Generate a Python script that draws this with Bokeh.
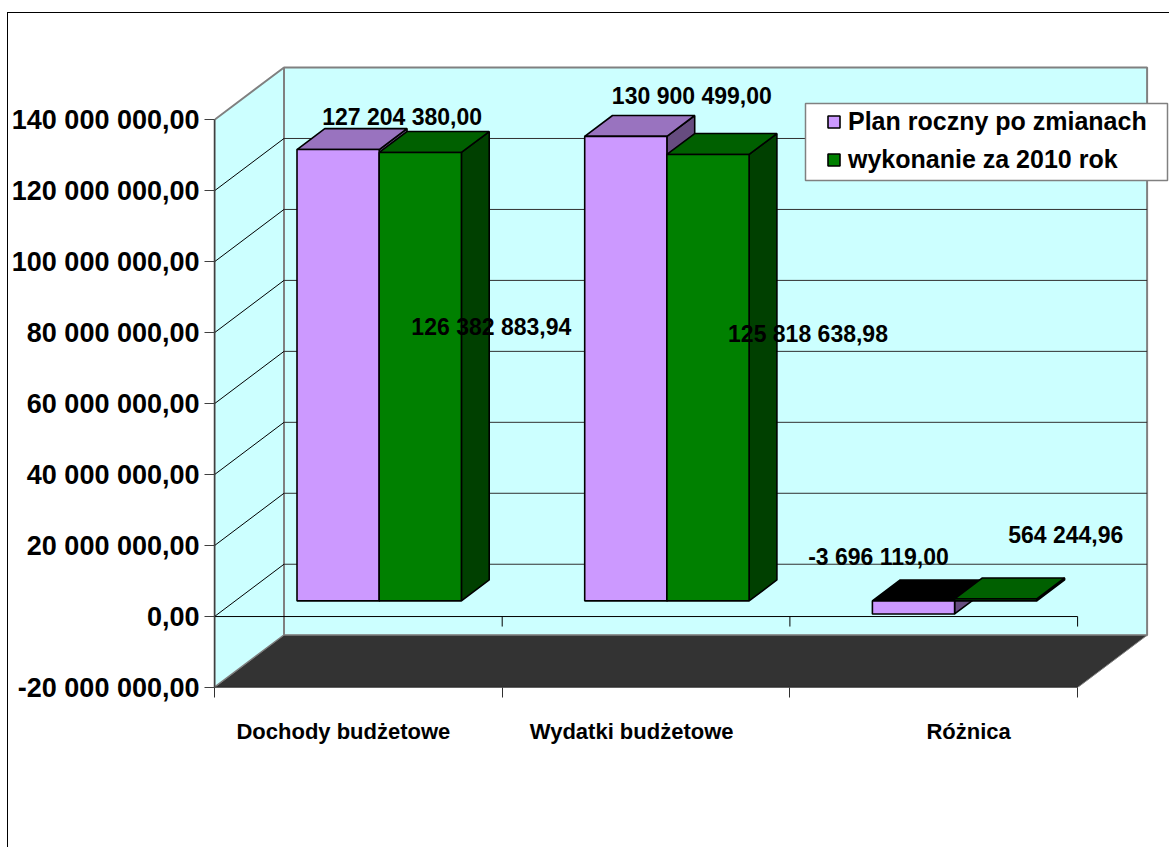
from bokeh.plotting import figure
from bokeh.embed import file_html
from bokeh.resources import INLINE
from bokeh.core.properties import value
from bokeh.models import Range1d, FixedTicker, Legend, LegendItem, BoxAnnotation

# ---- data ----
categories = ["Dochody budżetowe", "Wydatki budżetowe", "Różnica"]
plan = [127204380.00, 130900499.00, -3696119.00]
wykonanie = [126382883.94, 125818638.98, 564244.96]
plan_labels = ["127 204 380,00", "130 900 499,00", "-3 696 119,00"]
wykonanie_labels = ["126 382 883,94", "125 818 638,98", "564 244,96"]
y_ticks = [-20000000, 0, 20000000, 40000000, 60000000, 80000000, 100000000, 120000000, 140000000]
y_tick_labels = ["-20 000 000,00", "0,00", "20 000 000,00", "40 000 000,00", "60 000 000,00",
                 "80 000 000,00", "100 000 000,00", "120 000 000,00", "140 000 000,00"]
series_names = ["Plan roczny po zmianach", "wykonanie za 2010 rok"]

# ---- layout of the fake 3D projection ----
W, H = 1162, 835
LEFT, BOTTOM = 206, 161
PX_X = 287.7            # px per category
PX_Y = 3.548e-6         # px per value unit
DEPTH_X = 69.5 / PX_X   # wall depth in category units
DEPTH_Y = 52.3 / PX_Y   # wall depth in value units
FONT = value("Liberation Sans")
PLAN_OFF = [(64, -33), (66, -40), (-35, -57)]
WYK_OFF = [(71, 175), (100, 180), (70, -64)]
CAT_POS = [0.448, 1.450, 2.621]
BAR_W = 1 / 3.5
BAR_M = 1.5 / 3.5 / 2
D0, D1 = 0.3, 0.7

def px(x, d):
    return x + d * DEPTH_X

def py(v, d):
    return v + d * DEPTH_Y

p = figure(width=W, height=H, output_backend="svg", toolbar_location=None,
           x_range=Range1d(0, (W - LEFT) / PX_X),
           y_range=Range1d(y_ticks[0], y_ticks[0] + (H - BOTTOM) / PX_Y),
           min_border_left=LEFT, min_border_bottom=BOTTOM, min_border_top=0, min_border_right=0,
           styles={"margin-left": "7px", "margin-top": "12px",
                   "border-left": "1px solid #000000", "border-top": "1px solid #000000"})
p.outline_line_color = None
p.grid.visible = False

ymin, ymax = y_ticks[0], y_ticks[-1]
# walls and floor
p.patch([px(0, 1), px(3, 1), px(3, 1), px(0, 1)], [py(ymin, 1), py(ymin, 1), py(ymax, 1), py(ymax, 1)],
        fill_color="#CCFFFF", line_color="#808080", line_width=2)
p.patch([px(0, 0), px(0, 1), px(0, 1), px(0, 0)], [py(ymin, 0), py(ymin, 1), py(ymax, 1), py(ymax, 0)],
        fill_color="#CCFFFF", line_color="#808080", line_width=2)
grid = y_ticks[1:-1]
p.segment([px(0, 1)] * len(grid), [py(v, 1) for v in grid], [px(3, 1)] * len(grid), [py(v, 1) for v in grid],
          line_color="#303030", line_width=1)
p.segment([px(0, 0)] * len(grid), grid, [px(0, 1)] * len(grid), [py(v, 1) for v in grid],
          line_color="#000000", line_width=1)
p.patch([px(0, 0), px(3, 0), px(3, 1), px(0, 1)], [py(ymin, 0), py(ymin, 0), py(ymin, 1), py(ymin, 1)],
        fill_color="#333333", line_color="#808080", line_width=1)
p.line([px(0, 0), px(3, 0)], [ymin, ymin], line_color="#202020", line_width=1.5)
# zero line with its ticks
p.line([0, 3], [0, 0], line_color="#000000", line_width=1)
p.segment([1, 2, 3], [0, 0, 0], [1, 2, 3], [-10 / PX_Y] * 3, line_color="#000000", line_width=1)

def bars(vals, idx, front, top, side):
    lefts = [i + BAR_M + idx * BAR_W for i in range(len(vals))]
    rights = [l + BAR_W for l in lefts]
    sx, sy, tx, ty, tc = [], [], [], [], []
    for l, r, v in zip(lefts, rights, vals):
        t = max(v, 0)
        b = min(v, 0)
        sx.append([px(r, D0), px(r, D1), px(r, D1), px(r, D0)])
        sy.append([py(b, D0), py(b, D1), py(t, D1), py(t, D0)])
        tx.append([px(l, D0), px(r, D0), px(r, D1), px(l, D1)])
        ty.append([py(t, D0), py(t, D0), py(t, D1), py(t, D1)])
        tc.append(top if v >= 0 else "#000000")
    p.patches(sx, sy, fill_color=side, line_color="#000000", line_width=1.6)
    p.patches(tx, ty, fill_color=tc, line_color="#000000", line_width=1.6)
    return p.quad(left=[px(l, D0) for l in lefts], right=[px(r, D0) for r in rights],
                  bottom=[py(min(v, 0), D0) for v in vals], top=[py(max(v, 0), D0) for v in vals],
                  fill_color=front, line_color="#000000", line_width=1.6)

r_plan = bars(plan, 0, "#CC99FF", "#9973BF", "#664C7F")
r_wyk = bars(wykonanie, 1, "#008000", "#006000", "#004000")

def labels(vals, idx, texts, offs):
    xs = [px(i + BAR_M + (idx + 0.5) * BAR_W, D0) for i in range(len(vals))]
    ys = [py(max(v, 0) if v > 0 else min(v, 0), D0) for v in vals]
    p.text(xs, ys, text=texts, x_offset=[o[0] for o in offs], y_offset=[o[1] for o in offs],
           text_font=FONT, text_font_style="bold", text_font_size="23px",
           text_align="center", text_baseline="middle", text_color="#000000")

labels(plan, 0, plan_labels, PLAN_OFF)
labels(wykonanie, 1, wykonanie_labels, WYK_OFF)

# axes
ya = p.yaxis[0]
ya.ticker = FixedTicker(ticks=y_ticks)
ya.major_label_overrides = dict(zip(y_ticks, y_tick_labels))
ya.bounds = (ymin, ymax)
ya.major_tick_out = 10
ya.major_tick_in = 0
ya.minor_tick_out = 0
ya.minor_tick_in = 0
ya.axis_line_color = "#404040"
ya.major_tick_line_color = "#404040"
ya.axis_line_width = 1.5
ya.major_label_standoff = 5
ya.major_label_text_font = "Liberation Sans"
ya.major_label_text_font_style = "bold"
ya.major_label_text_font_size = "27px"
ya.major_label_text_color = "#000000"

xa = p.xaxis[0]
xa.ticker = FixedTicker(ticks=CAT_POS, minor_ticks=[0, 1, 2, 3])
xa.major_label_overrides = dict(zip(CAT_POS, categories))
xa.bounds = (0, 3)
xa.major_tick_out = 0
xa.major_tick_in = 0
xa.minor_tick_out = 10
xa.minor_tick_in = 0
xa.minor_tick_line_color = "#303030"
xa.axis_line_color = None
xa.major_label_standoff = 21
xa.major_label_text_font = "Liberation Sans"
xa.major_label_text_font_style = "bold"
xa.major_label_text_font_size = "22px"
xa.major_label_text_color = "#000000"

# legend box
p.add_layout(BoxAnnotation(left=796, right=1158, top=89, bottom=166, left_units="canvas", right_units="canvas",
                           top_units="canvas", bottom_units="canvas", fill_color="#FFFFFF", fill_alpha=1,
                           line_color="#808080", line_alpha=1, line_width=1.5))
legend = Legend(items=[LegendItem(label=series_names[0], renderers=[r_plan], index=0),
                       LegendItem(label=series_names[1], renderers=[r_wyk], index=0)],
                location=(612, 513), padding=0, margin=0, spacing=9,
                glyph_width=15, glyph_height=15, label_standoff=7, label_height=28,
                border_line_color=None, background_fill_alpha=0,
                label_text_font="Liberation Sans", label_text_font_style="bold",
                label_text_font_size="25px", label_text_color="#000000")
p.add_layout(legend)

open("out.html", "w").write(file_html(p, INLINE))
